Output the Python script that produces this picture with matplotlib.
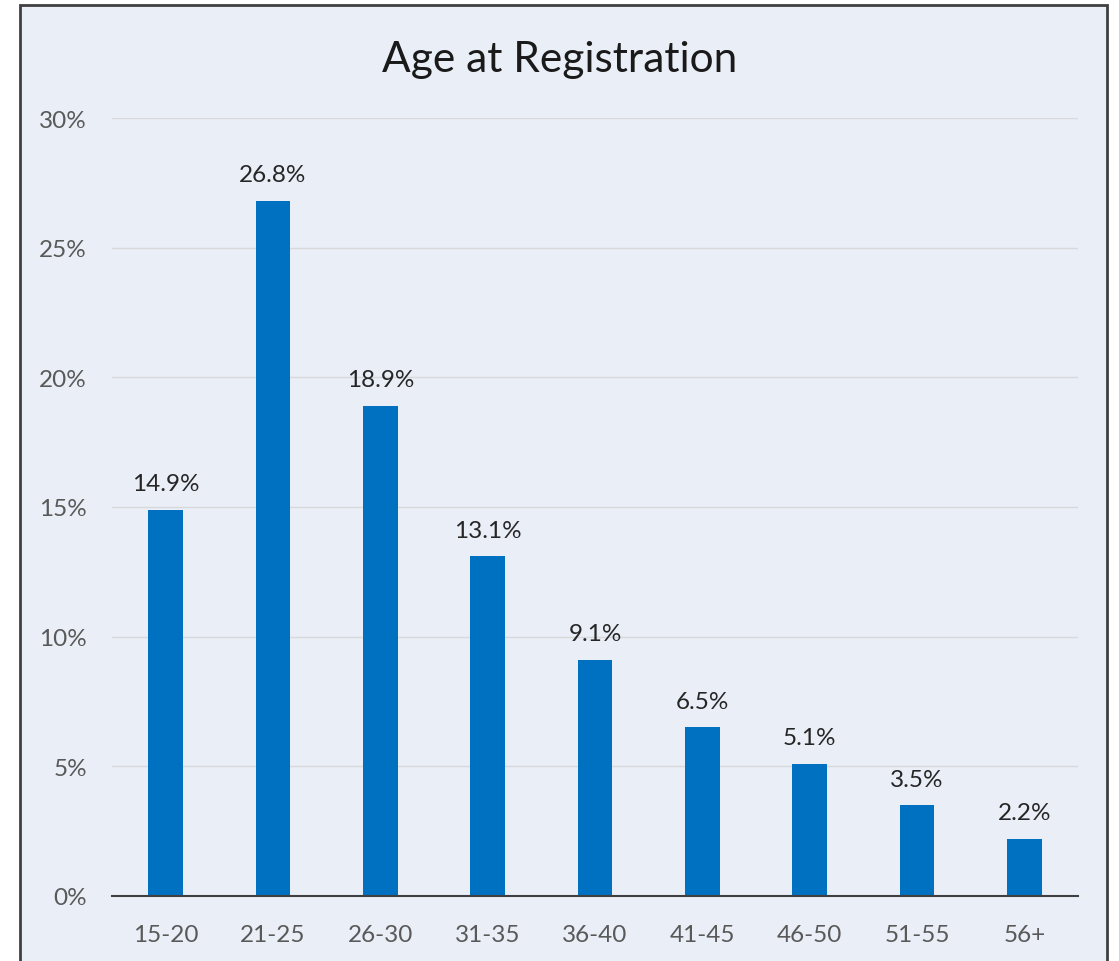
import matplotlib.pyplot as plt
from matplotlib.patches import Rectangle
from matplotlib.ticker import FuncFormatter

age_groups = ["15-20", "21-25", "26-30", "31-35", "36-40", "41-45", "46-50", "51-55", "56+"]
share_pct = [14.9, 26.8, 18.9, 13.1, 9.1, 6.5, 5.1, 3.5, 2.2]

BG = "#E9EEF7"
BAR = "#0070C0"

plt.rcParams["font.family"] = ["Lato", "DejaVu Sans"]

fig = plt.figure(figsize=(11.19, 9.62), dpi=100)
fig.patch.set_facecolor("white")

# light panel with dark frame (bottom edge runs off the image)
fig.patches.append(Rectangle((20 / 1119, -0.05), 1087 / 1119, 1.05 - 6 / 962,
                             transform=fig.transFigure, facecolor=BG,
                             edgecolor="#404040", linewidth=2, zorder=-5))

ax = fig.add_axes([112 / 1119, 1 - 897 / 962, 966 / 1119, 778 / 962])
ax.patch.set_visible(False)

x = range(len(age_groups))
bars = ax.bar(x, share_pct, width=0.32, color=BAR, zorder=3)

for b, v in zip(bars, share_pct):
    ax.text(b.get_x() + b.get_width() / 2, v + 0.6, f"{v:.1f}%",
            ha="center", va="bottom", fontsize=17.5, color="#262626")

ax.set_xlim(-0.5, len(age_groups) - 0.5)
ax.set_ylim(0, 30)
ax.set_yticks(range(0, 31, 5))
ax.yaxis.set_major_formatter(FuncFormatter(lambda v, _: f"{v:.0f}%"))
ax.set_xticks(list(x))
ax.set_xticklabels(age_groups)
ax.tick_params(axis="both", length=0, labelsize=17.5, labelcolor="#595959")
ax.tick_params(axis="y", pad=18)
ax.tick_params(axis="x", pad=20)

ax.grid(axis="y", color="#D9D9D9", linewidth=1, zorder=0)
for side in ["top", "right", "left"]:
    ax.spines[side].set_visible(False)
ax.spines["bottom"].set_color("#404040")
ax.spines["bottom"].set_linewidth(1.5)
ax.spines["bottom"].set_zorder(4)

fig.text(0.5, 1 - 60 / 962, "Age at Registration", ha="center", va="center",
         fontsize=30.5, color="#1a1a1a")

fig.savefig("out.png", dpi=100)
